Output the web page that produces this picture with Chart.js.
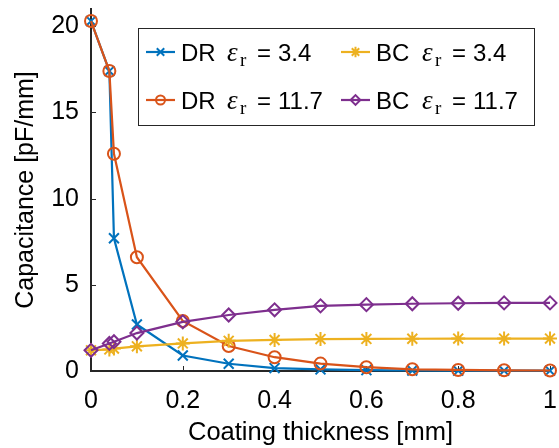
<!DOCTYPE html>
<html>
<head>
<meta charset="utf-8">
<script src="https://cdn.jsdelivr.net/npm/chart.js@4.4.1/dist/chart.umd.min.js"></script>
<style>
  html, body { margin: 0; padding: 0; background: #fff; }
  #wrap { width: 559px; height: 448px; }
</style>
</head>
<body>
<div id="wrap"><canvas id="cap" width="559" height="448"></canvas></div>
<script>
// Capacitance vs coating thickness, DR / BC at two permittivities.
const thickness = [0, 0.04, 0.05, 0.1, 0.2, 0.3, 0.4, 0.5, 0.6, 0.7, 0.8, 0.9, 1.0];
const drLow  = [20.3, 17.4, 7.7, 2.7, 0.9, 0.42, 0.17, 0.09, 0.05, 0.03, 0.02, 0.02, 0.02];
const drHigh = [20.3, 17.4, 12.6, 6.6, 2.9, 1.45, 0.8, 0.43, 0.22, 0.1, 0.06, 0.04, 0.03];
const bcLow  = [1.2, 1.25, 1.3, 1.43, 1.6, 1.75, 1.8, 1.85, 1.86, 1.87, 1.88, 1.88, 1.88];
const bcHigh = [1.2, 1.6, 1.7, 2.2, 2.85, 3.25, 3.55, 3.78, 3.85, 3.9, 3.93, 3.95, 3.95];

const xTicks = [0, 0.2, 0.4, 0.6, 0.8, 1];
const yTicks = [0, 5, 10, 15, 20];

const seriesNames = ["DR", "DR", "BC", "BC"];
const seriesEps = ["3.4", "11.7", "3.4", "11.7"];

const axisColor = "#262626";
const sans = "'Liberation Sans', Arial, Helvetica, sans-serif";
const serif = "'Liberation Serif', 'Times New Roman', serif";

function pts(arr) {
  return thickness.map((t, i) => ({ x: t, y: arr[i] }));
}

function series(arr, color, style, radius, order) {
  return {
    data: pts(arr),
    borderColor: color,
    backgroundColor: color,
    borderWidth: 2.2,
    pointStyle: style,
    pointRadius: radius,
    pointBorderWidth: 2,
    pointBorderColor: color,
    pointBackgroundColor: "rgba(0,0,0,0)",
    tension: 0,
    clip: false,
    order,
  };
}

// ---- inward ticks (MATLAB style) ----
const inwardTicks = {
  id: "inwardTicks",
  beforeDatasetsDraw(chart) {
    const { ctx, chartArea, scales: { x, y } } = chart;
    ctx.save();
    ctx.strokeStyle = axisColor;
    ctx.lineWidth = 1;
    ctx.beginPath();
    x.ticks.forEach(t => {
      const px = Math.round(x.getPixelForValue(t.value)) + 0.5;
      ctx.moveTo(px, chartArea.bottom);
      ctx.lineTo(px, chartArea.bottom - 5);
    });
    y.ticks.forEach(t => {
      const py = Math.round(y.getPixelForValue(t.value)) + 0.5;
      ctx.moveTo(chartArea.left, py);
      ctx.lineTo(chartArea.left + 5, py);
    });
    ctx.stroke();
    ctx.restore();
  },
};

// ---- boxed two-column legend with epsilon_r ----
const boxLegend = {
  id: "boxLegend",
  afterDraw(chart) {
    const { ctx } = chart;
    const box = { l: 138.5, t: 28.5, w: 396, h: 97 };
    const cols = [146, 341];
    const rows = [52, 100];
    ctx.save();
    ctx.fillStyle = "#fff";
    ctx.fillRect(box.l, box.t, box.w, box.h);
    ctx.strokeStyle = axisColor;
    ctx.lineWidth = 1;
    ctx.strokeRect(box.l, box.t, box.w, box.h);

    chart.data.datasets.forEach((ds, i) => {
      const lx = cols[Math.floor(i / 2)];
      const ly = rows[i % 2];
      ctx.strokeStyle = ds.borderColor;
      ctx.fillStyle = "rgba(0,0,0,0)";
      ctx.lineWidth = 2.2;
      ctx.beginPath();
      ctx.moveTo(lx, ly);
      ctx.lineTo(lx + 29, ly);
      ctx.stroke();
      ctx.lineWidth = 2;
      Chart.helpers.drawPoint(ctx, {
        pointStyle: ds.pointStyle, rotation: 0,
        radius: ds.pointRadius * 0.75, borderWidth: 2,
      }, lx + 14.5, ly);

      const x0 = lx + 35;
      const base = ly + 9;
      ctx.fillStyle = "#000";
      ctx.textBaseline = "alphabetic";
      ctx.textAlign = "left";
      ctx.font = `24px ${sans}`;
      ctx.fillText(seriesNames[i], x0, base);
      ctx.font = `italic 27px ${serif}`;
      ctx.fillText("\u03b5", x0 + 46, base);
      ctx.font = `19px ${serif}`;
      ctx.fillText("r", x0 + 59, base + 5);
      ctx.font = `24px ${sans}`;
      ctx.fillText("=", x0 + 76, base);
      ctx.fillText(seriesEps[i], x0 + 97, base);
    });
    ctx.restore();
  },
};

new Chart(document.getElementById("cap"), {
  type: "line",
  data: {
    datasets: [
      series(drLow,  "#0072BD", "crossRot", 7, 4),
      series(drHigh, "#D95319", "circle", 6, 3),
      series(bcLow,  "#EDB120", "star", 7, 2),
      series(bcHigh, "#7E2F8E", "rectRot", 6.5, 1),
    ],
  },
  options: {
    responsive: false,
    animation: false,
    layout: { padding: { top: 8, right: 7, left: 0, bottom: 0 } },
    plugins: { legend: { display: false }, tooltip: { enabled: false } },
    scales: {
      x: {
        type: "linear",
        min: 0,
        max: 1,
        afterBuildTicks: s => { s.ticks = xTicks.map(v => ({ value: v })); },
        afterFit: s => { s.height = 77; s.paddingLeft = 0; s.paddingRight = 0; },
        ticks: {
          color: "#000",
          font: { family: sans, size: 25 },
          padding: 15,
          maxRotation: 0,
          autoSkip: false,
          callback: v => String(v),
        },
        grid: { drawOnChartArea: false, drawTicks: false },
        border: { color: axisColor, width: 2 },
        title: {
          display: true,
          text: "Coating thickness [mm]",
          color: "#000",
          font: { family: sans, size: 25.5 },
          padding: { top: 0, bottom: 0 },
        },
      },
      y: {
        min: 0,
        max: 21,
        afterBuildTicks: s => { s.ticks = yTicks.map(v => ({ value: v })); },
        afterFit: s => { s.width = 91; s.paddingTop = 0; s.paddingBottom = 0; },
        ticks: {
          color: "#000",
          font: { family: sans, size: 25 },
          padding: 12,
          autoSkip: false,
        },
        grid: { drawOnChartArea: false, drawTicks: false },
        border: { color: axisColor, width: 2 },
        title: {
          display: true,
          text: "Capacitance [pF/mm]",
          color: "#000",
          font: { family: sans, size: 25 },
          padding: { top: 11, bottom: 0 },
        },
      },
    },
  },
  plugins: [inwardTicks, boxLegend],
});
</script>
</body>
</html>
